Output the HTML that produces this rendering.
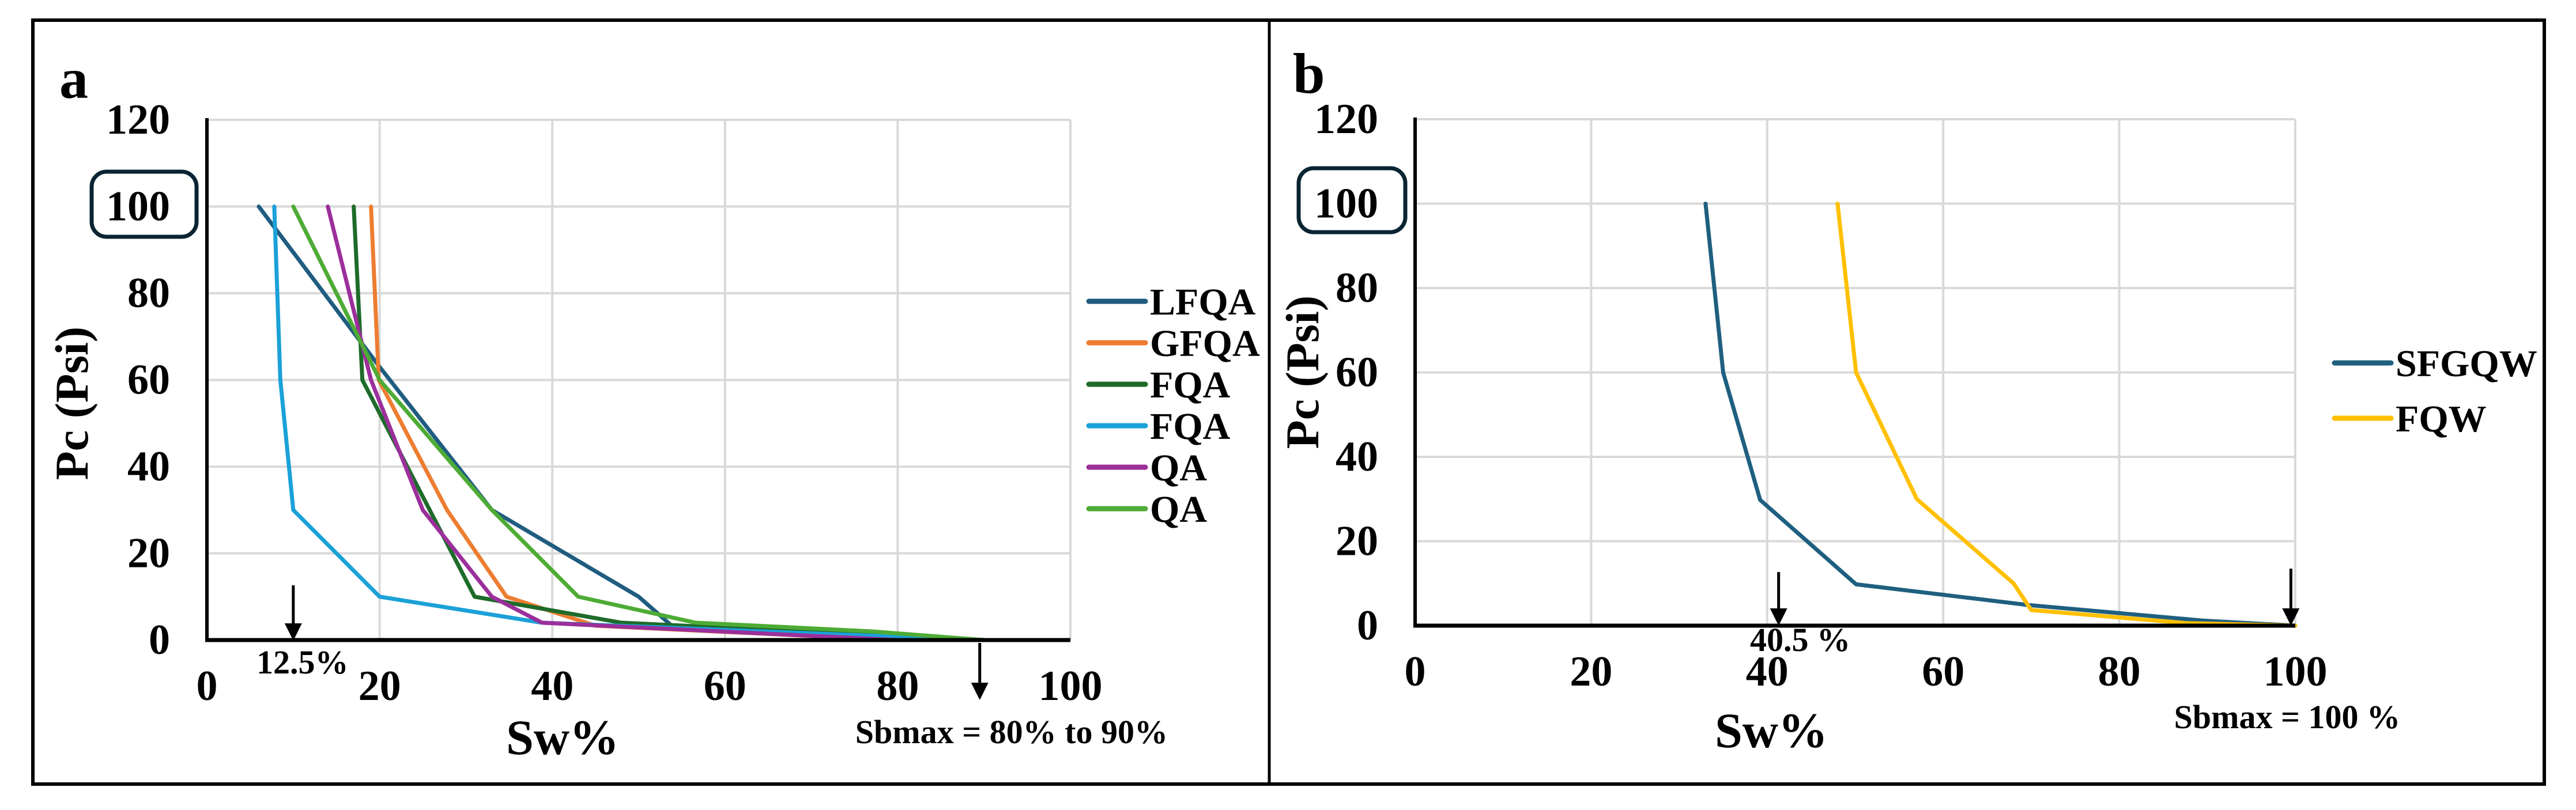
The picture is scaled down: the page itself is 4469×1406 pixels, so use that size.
<!DOCTYPE html>
<html><head><meta charset="utf-8"><style>
html,body{margin:0;padding:0;background:#fff;}
svg{display:block;font-family:"Liberation Serif",serif;font-weight:bold;}
</style></head><body>
<svg id="fig" width="4469" height="1406" viewBox="0 0 4469 1406" xmlns="http://www.w3.org/2000/svg">
<rect x="57" y="35" width="4357" height="1326" fill="none" stroke="#000" stroke-width="6"/>
<line x1="2202" y1="35" x2="2202" y2="1361" stroke="#000" stroke-width="5"/>
<g id="pa"></g>
<g id="pb"></g>
</svg>
<script>
const xTicks=[0,20,40,60,80,100];
const yTicks=[0,20,40,60,80,100,120];
// Panel a data
const aNames=["LFQA","GFQA","FQA","FQA","QA","QA"];
const aColors=["#1f5c80","#ed7d31","#1e6b2a","#1ba1d8","#9b2f9b","#4eab35"];
const aLFQA_x=[6,20,33,50,54,90];   const aLFQA_y=[100,63,30,10,3,0];
const aGFQA_x=[19,19.9,27.8,34.7,45,80]; const aGFQA_y=[100,60,30,10,3.3,0];
const aFQA1_x=[17,18,31,48,90];    const aFQA1_y=[100,60,10,4,0];
const aFQA2_x=[7.8,8.5,10,20,38.8,90]; const aFQA2_y=[100,60,30,10,4,0];
const aQA1_x=[14,19,25,33,38.8,80]; const aQA1_y=[100,60,30,10,4,0];
const aQA2_x=[10,20,33,43,56.6,77,90]; const aQA2_y=[100,60,30,10,4,2,0];
// Panel b data
const bNames=["SFGQW","FQW"];
const bColors=["#1f5f80","#ffc000"];
const bSF_x=[33,35,39.2,50.1,69.6,89.5,100]; const bSF_y=[100,60,29.8,9.8,4.9,1.2,0];
const bFQ_x=[48,50.1,57,68,70,87.6,100];    const bFQ_y=[100,60,30,10,3.7,0.6,0];

const NS="http://www.w3.org/2000/svg";
function mk(parent,tag,attrs,text){const e=document.createElementNS(NS,tag);for(const k in attrs)e.setAttribute(k,attrs[k]);if(text!==undefined)e.textContent=text;parent.appendChild(e);return e;}

function panel(g,cfg){
  const sx=v=>cfg.x0+(cfg.x1-cfg.x0)*v/100;
  const sy=v=>cfg.y0-(cfg.y0-cfg.y120)*v/120;
  xTicks.forEach(t=>{ if(t===0)return;
    const l=mk(g,'line',{x1:sx(t),x2:sx(t),y1:sy(0),y2:sy(120),stroke:'#d9d9d9','stroke-width':4});
    
    
  });
  yTicks.forEach(t=>{ if(t===0)return;
    const l=mk(g,'line',{x1:sx(0),x2:sx(100),y1:sy(t),y2:sy(t),stroke:'#d9d9d9','stroke-width':4});
    
    
  });
  yTicks.forEach(t=>{
    const e=mk(g,'text',{x:cfg.x0-64,y:sy(t)+24,'text-anchor':'end','font-size':74},String(t));
    
    
  });
  xTicks.forEach(t=>{
    const e=mk(g,'text',{x:sx(t),y:cfg.xlabY,'text-anchor':'middle','font-size':74},String(t));
    
    
  });
  const bx=mk(g,'rect',{x:cfg.box[0],y:cfg.box[1],width:cfg.box[2],height:cfg.box[3],rx:26,fill:'none',stroke:'#0a2433','stroke-width':7});
  
  
  cfg.series.forEach((s,i)=>{
    const pts=s.xs.map((v,j)=>sx(v)+','+sy(s.ys[j])).join(' ');
    const p=mk(g,'polyline',{points:pts,fill:'none',stroke:s.color,'stroke-width':7,'stroke-linejoin':'round','stroke-linecap':'round'});
    
    
  });
  const ya=mk(g,'line',{x1:sx(0),x2:sx(0),y1:sy(120)-3,y2:sy(0)+3,stroke:'#000','stroke-width':6});
  
  
  const xa=mk(g,'line',{x1:sx(0)-3,x2:sx(100),y1:sy(0),y2:sy(0),stroke:'#000','stroke-width':7});
  
  
  cfg.arrows.forEach(a=>{
    const ax=sx(a.v);
    const l=mk(g,'line',{x1:ax,x2:ax,y1:a.y1,y2:a.y2-28,stroke:'#000','stroke-width':5});
    
    
    const h=mk(g,'polygon',{points:(ax-15)+','+(a.y2-30)+' '+(ax+15)+','+(a.y2-30)+' '+ax+','+a.y2,fill:'#000'});
    
    
  });
  cfg.legend.forEach((s,i)=>{
    const y=cfg.legY+i*cfg.legStep;
    const l=mk(g,'line',{x1:cfg.legX,x2:cfg.legX+98,y1:y,y2:y,stroke:s.color,'stroke-width':9,'stroke-linecap':'round'});
    
    
    const t=mk(g,'text',{x:cfg.legX+106,y:y+23,'font-size':66},s.name);
    
    
  });
}

const aSeries=[
 {name:aNames[0],color:aColors[0],xs:aLFQA_x,ys:aLFQA_y},
 {name:aNames[1],color:aColors[1],xs:aGFQA_x,ys:aGFQA_y},
 {name:aNames[2],color:aColors[2],xs:aFQA1_x,ys:aFQA1_y},
 {name:aNames[3],color:aColors[3],xs:aFQA2_x,ys:aFQA2_y},
 {name:aNames[4],color:aColors[4],xs:aQA1_x,ys:aQA1_y},
 {name:aNames[5],color:aColors[5],xs:aQA2_x,ys:aQA2_y}];
panel(document.getElementById('pa'),{x0:359,x1:1857,y0:1111,y120:208,xlabY:1215,
  box:[159,298,182,113],series:aSeries,legend:aSeries,legX:1889,legY:523,legStep:72,
  arrows:[{v:10,y1:1016,y2:1112},{v:89.5,y1:1116,y2:1215}]});
const bSeries=[
 {name:bNames[0],color:bColors[0],xs:bSF_x,ys:bSF_y},
 {name:bNames[1],color:bColors[1],xs:bFQ_x,ys:bFQ_y}];
panel(document.getElementById('pb'),{x0:2455,x1:3982,y0:1086,y120:207,xlabY:1190,
  box:[2253,292,185,111],series:bSeries,legend:bSeries,legX:4050,legY:630,legStep:96,
  arrows:[{v:41.3,y1:993,y2:1086},{v:99.5,y1:987,y2:1086}]});
</script>
<script>
const f=document.getElementById('fig');
function T(x,y,size,txt,name,extra){const e=document.createElementNS("http://www.w3.org/2000/svg",'text');e.setAttribute('x',x);e.setAttribute('y',y);e.setAttribute('font-size',size);if(extra)for(const k in extra)e.setAttribute(k,extra[k]);e.textContent=txt;


f.appendChild(e);}
T(103,170,100,'a','panel-label-a');
T(2243,161,100,'b','panel-label-b');
T(445,1169,58,'12.5%','annotation-12-5');
T(2026,1290,58,'Sbmax = 80% to 90%','annotation-sbmax-a',{'text-anchor':'end'});
T(3036,1130,58,'40.5 %','annotation-40-5');
T(4164,1264,58,'Sbmax = 100 %','annotation-sbmax-b',{'text-anchor':'end'});
T(976,1309,86,'Sw%','x-axis-title-a',{'text-anchor':'middle'});
T(3073,1297,86,'Sw%','x-axis-title-b',{'text-anchor':'middle'});
T(0,0,82,'Pc (Psi)','y-axis-title-a',{'text-anchor':'middle',transform:'translate(152,700) rotate(-90)'});
T(0,0,82,'Pc (Psi)','y-axis-title-b',{'text-anchor':'middle',transform:'translate(2287,646) rotate(-90)'});
</script>
</body></html>
